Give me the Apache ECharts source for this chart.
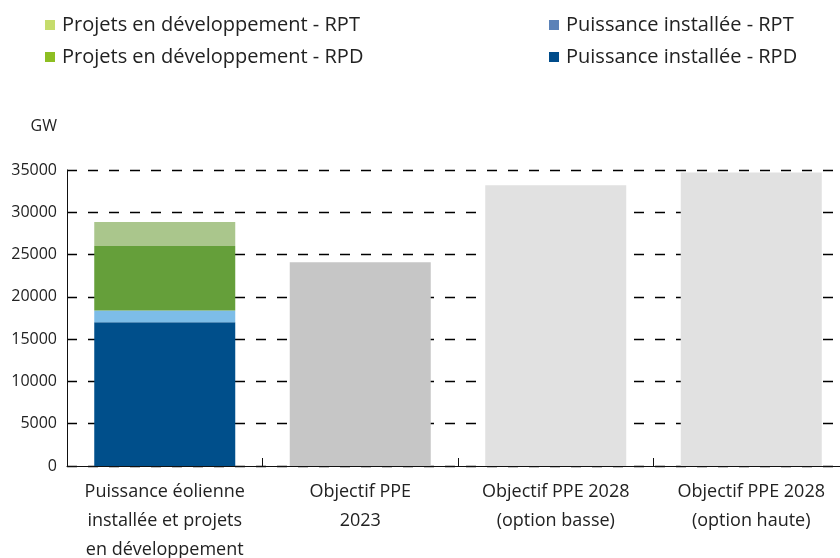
<!DOCTYPE html>
<html>
<head>
<meta charset="utf-8">
<script src="https://cdn.jsdelivr.net/npm/echarts@6/dist/echarts.min.js"></script>
<style>
  html, body { margin: 0; padding: 0; background: #fff; }
  #barchart { width: 840px; height: 558px; }
</style>
</head>
<body>
<div id="barchart"></div>
<script>
var categories = [
    'Puissance éolienne\ninstallée et projets\nen développement',
    'Objectif PPE\n2023',
    'Objectif PPE 2028\n(option basse)',
    'Objectif PPE 2028\n(option haute)'
];
// valeurs (MW, axe titré GW)
var installeRPD = [17000, '-', '-', '-'];
var installeRPT = [1400, '-', '-', '-'];
var projetsRPD = [7600, '-', '-', '-'];
var projetsRPT = [2850, '-', '-', '-'];
var objectifs = ['-', 24100, 33200, 34700];
var yTicks = [0, 5000, 10000, 15000, 20000, 25000, 30000, 35000];

var font = 'Open Sans';
var myChart = echarts.init(document.getElementById('barchart'));

initChart();

function legendBlock(left, names, colors) {
    return {
        orient: 'vertical',
        left: left,
        top: 10,
        itemWidth: 10,
        itemHeight: 10,
        itemGap: 12,
        icon: 'rect',
        selectedMode: false,
        textStyle: {
            fontFamily: font,
            fontSize: 20,
            color: '#222',
            padding: [0, 0, 0, 2]
        },
        data: names.map(function (n, i) {
            return { name: n, itemStyle: { color: colors[i] } };
        })
    };
}

function initChart() {
    var option = {
        animation: false,
        legend: [
            legendBlock(40, ['Projets en développement - RPT', 'Projets en développement - RPD'], ['#c5dc6c', '#8dbe22']),
            legendBlock(544, ['Puissance installée - RPT', 'Puissance installée - RPD'], ['#5b82b8', '#004c8a'])
        ],
        grid: {
            left: 67,
            right: -9,
            top: 170,
            bottom: 92,
            outerBoundsMode: 'none'
        },
        xAxis: {
            type: 'category',
            data: categories,
            axisLine: { show: true, lineStyle: { color: '#111', width: 1 } },
            axisTick: { show: true, inside: true, length: 8, lineStyle: { color: '#111' } },
            axisLabel: {
                fontFamily: font,
                fontSize: 18,
                color: '#222',
                lineHeight: 29,
                margin: 11,
                interval: 0
            }
        },
        yAxis: {
            type: 'value',
            min: yTicks[0],
            max: yTicks[yTicks.length - 1],
            interval: 5000,
            name: 'GW',
            nameLocation: 'end',
            nameGap: 36,
            nameTextStyle: {
                fontFamily: font, fontSize: 16, color: '#222',
                align: 'right', padding: [0, 10, 0, 0]
            },
            axisLine: { show: true, lineStyle: { color: '#111', width: 1 } },
            axisTick: { show: false },
            axisLabel: {
                fontFamily: font, fontSize: 16, color: '#222', margin: 10,
                formatter: function (v) { return String(v); }
            },
            splitLine: {
                show: true,
                lineStyle: { color: '#000', width: 1.3, type: [10, 11] }
            }
        },
        series: [{
            name: 'Puissance installée - RPD',
            type: 'bar', stack: 'tot', barWidth: 141,
            itemStyle: { color: '#004f8b' },
            data: installeRPD
        }, {
            name: 'Puissance installée - RPT',
            type: 'bar', stack: 'tot', barWidth: 141,
            itemStyle: { color: '#7dbde8' },
            data: installeRPT
        }, {
            name: 'Projets en développement - RPD',
            type: 'bar', stack: 'tot', barWidth: 141,
            itemStyle: { color: '#659f3a' },
            data: projetsRPD
        }, {
            name: 'Projets en développement - RPT',
            type: 'bar', stack: 'tot', barWidth: 141,
            itemStyle: { color: '#aac68c' },
            data: projetsRPT
        }, {
            name: 'Objectifs',
            type: 'bar', stack: 'tot', barWidth: 141,
            itemStyle: {
                color: function (p) { return p.dataIndex === 1 ? '#c6c6c6' : '#e1e1e1'; }
            },
            data: objectifs
        }]
    };
    myChart.setOption(option);
}
</script>
</body>
</html>
